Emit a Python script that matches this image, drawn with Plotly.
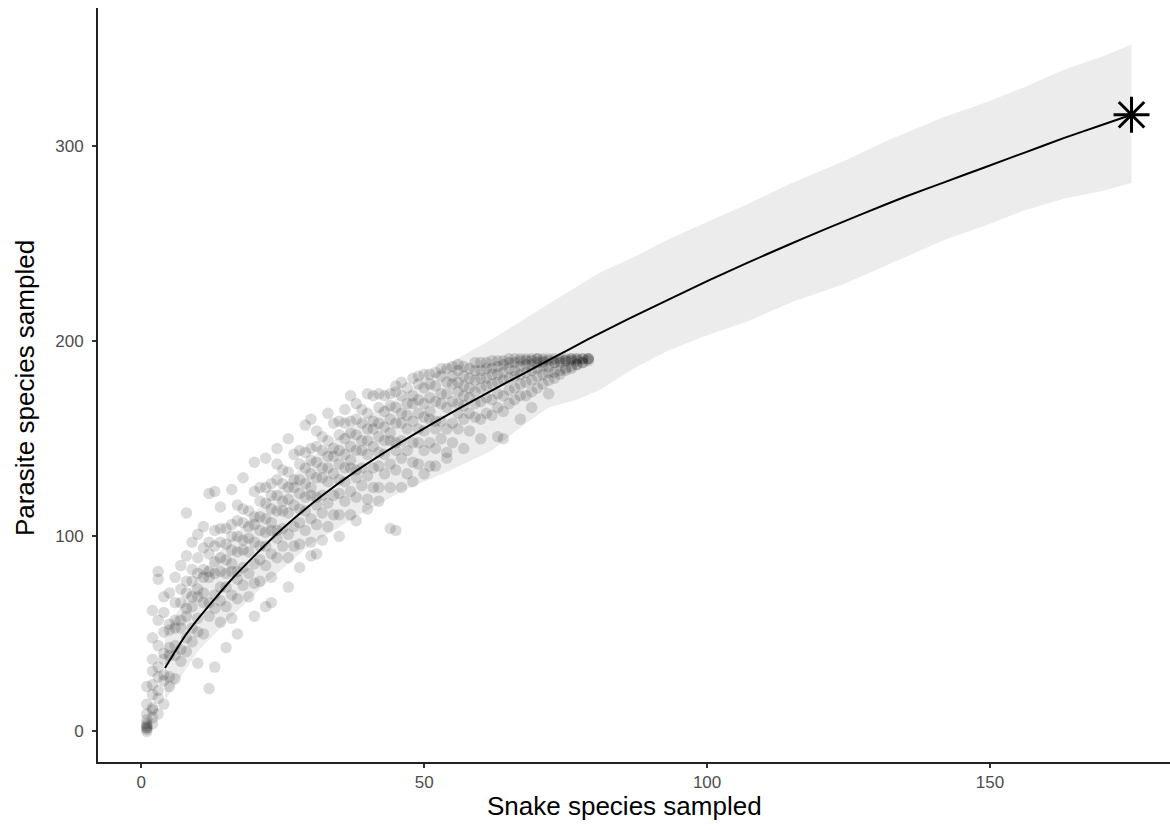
import plotly.graph_objects as go

# Subsampled accumulation: snake species drawn (x) vs parasite species found (y)
cloud = [
    (1, [0, 1, 2, 2, 3, 4, 6, 9, 14, 23]),
    (2, [4, 7, 11, 12, 19, 24, 31, 37, 48, 62]),
    (3, [9, 17, 21, 28, 33, 44, 57, 78, 82]),
    (4, [14, 26, 29, 37, 40, 51, 61, 69]),
    (5, [23, 28, 39, 43, 52, 55, 71]),
    (6, [27, 39, 44, 53, 57, 66, 79]),
    (7, [36, 42, 53, 57, 66, 73, 85]),
    (8, [41, 48, 59, 63, 71, 77, 90, 112]),
    (9, [46, 53, 64, 69, 77, 83, 97]),
    (10, [35, 51, 58, 69, 73, 81, 89, 101]),
    (11, [50, 66, 71, 79, 83, 94, 105]),
    (12, [22, 59, 66, 79, 82, 91, 97, 122]),
    (13, [33, 63, 70, 81, 87, 95, 103, 123]),
    (14, [56, 67, 74, 82, 89, 97, 104, 115]),
    (15, [43, 64, 74, 81, 88, 96, 104]),
    (16, [58, 70, 82, 86, 93, 100, 106, 124]),
    (17, [50, 68, 78, 82, 92, 100, 108, 116]),
    (18, [75, 84, 93, 98, 107, 114, 130]),
    (19, [69, 81, 92, 99, 105, 113]),
    (20, [59, 76, 86, 97, 106, 110, 123, 138]),
    (21, [77, 88, 95, 103, 110, 118, 125]),
    (22, [64, 85, 95, 102, 109, 117, 125, 140]),
    (23, [66, 79, 91, 103, 107, 114, 121, 127]),
    (24, [89, 99, 103, 113, 121, 129, 137, 145]),
    (25, [95, 104, 113, 118, 127, 134]),
    (26, [74, 89, 101, 112, 119, 125, 133, 150]),
    (27, [95, 105, 116, 125, 129, 142]),
    (28, [84, 96, 107, 114, 122, 129, 137, 144]),
    (29, [103, 113, 120, 127, 135, 143, 157]),
    (30, [90, 97, 109, 121, 125, 132, 139, 145, 160]),
    (31, [91, 106, 116, 120, 130, 138, 146, 154]),
    (32, [98, 112, 121, 130, 135, 144, 151]),
    (33, [105, 117, 128, 135, 141, 149, 163]),
    (34, [111, 121, 132, 141, 145, 158]),
    (35, [100, 111, 122, 129, 137, 144, 152, 159]),
    (36, [118, 128, 135, 142, 150, 158, 165]),
    (37, [111, 123, 135, 139, 146, 153, 159, 172]),
    (38, [108, 120, 130, 134, 144, 152, 160, 168]),
    (39, [126, 135, 144, 149, 158, 165]),
    (40, [114, 119, 131, 142, 149, 155, 163, 173]),
    (41, [125, 135, 146, 155, 159, 172]),
    (42, [118, 125, 136, 143, 151, 158, 166, 173]),
    (43, [132, 142, 149, 156, 164, 172]),
    (44, [104, 125, 137, 149, 153, 160, 167, 173]),
    (45, [103, 134, 144, 148, 158, 166, 174, 177]),
    (46, [125, 140, 149, 158, 163, 172, 179]),
    (47, [132, 144, 155, 162, 168, 176]),
    (48, [128, 138, 148, 159, 168, 172, 181]),
    (49, [137, 148, 155, 163, 170, 178, 182]),
    (50, [132, 144, 154, 161, 168, 176, 183]),
    (51, [136, 148, 160, 164, 171, 178, 183]),
    (52, [136, 145, 155, 159, 169, 177, 184]),
    (53, [150, 159, 168, 173, 182, 186]),
    (54, [140, 143, 155, 166, 173, 179, 186]),
    (55, [148, 158, 169, 178, 182, 187]),
    (56, [155, 163, 168, 174, 179, 185, 188]),
    (57, [145, 160, 167, 172, 177, 182, 187]),
    (58, [154, 163, 171, 176, 181, 186]),
    (59, [161, 168, 174, 180, 185, 189]),
    (60, [150, 160, 169, 176, 181, 185, 189]),
    (61, [163, 171, 177, 181, 186, 189]),
    (62, [162, 170, 178, 183, 186, 190]),
    (63, [151, 166, 173, 179, 183, 187, 190]),
    (64, [150, 164, 172, 180, 184, 188, 190]),
    (65, [168, 175, 181, 186, 189, 191]),
    (66, [170, 176, 182, 185, 189, 191]),
    (67, [160, 172, 178, 183, 187, 190, 191]),
    (68, [172, 179, 184, 188, 190, 191]),
    (69, [166, 174, 180, 185, 188, 190, 191]),
    (70, [176, 182, 186, 189, 191, 191]),
    (71, [178, 183, 187, 189, 190, 191]),
    (72, [173, 180, 184, 187, 190, 191]),
    (73, [181, 184, 189, 189, 191]),
    (74, [183, 185, 190, 189, 191]),
    (75, [185, 186, 190, 190, 191]),
    (76, [186, 187, 191, 190, 191]),
    (77, [188, 188, 191, 190, 191]),
    (78, [189, 189, 191, 191]),
    (79, [190, 191, 191, 191]),
]
snake_n = [n for n, ys in cloud for _ in ys]
parasite_n = [y for _, ys in cloud for y in ys]

# Rarefaction / extrapolation curve
curve_x = [4.2, 6, 8, 10.4, 13, 16, 20, 25, 31.6, 38, 45.8, 54, 63.4, 72.5, 79,
           86.2, 93, 100.2, 107, 114.1, 121, 128.1, 135, 142, 149, 156, 163, 170, 175]
curve_y = [32.5, 41, 50, 59, 68, 78, 90, 104, 120, 133.5, 148, 162, 177, 191, 201,
           211.5, 221, 231, 240, 249, 257.5, 266, 274, 281.5, 289, 296.5, 304, 311, 316]

# Confidence band around the curve
band_x = [4.2, 10, 15, 22, 30, 38, 46, 54, 62, 68, 72, 77, 81, 87, 93, 100, 107,
          115, 124, 132, 142, 149, 156, 163, 170, 175]
band_hi = [50, 80, 96, 118, 140, 158, 172, 188, 201, 212, 219, 228, 235, 243, 252,
           261, 270, 281, 292, 303, 315, 322, 330, 339, 346, 352]
band_lo = [16, 41, 56, 76, 96, 110, 123, 133, 144, 158, 166, 170, 175, 186, 195,
           203, 210, 220, 229, 239, 252, 259, 267, 273, 277, 281]

# Estimated total richness
est_x = [175]
est_y = [316]

x_ticks = [0, 50, 100, 150]
y_ticks = [0, 100, 200, 300]

fig = go.Figure()

fig.add_trace(go.Scatter(
    x=band_x + band_x[::-1], y=band_hi + band_lo[::-1],
    fill="toself", fillcolor="rgb(236,236,236)", line=dict(width=0),
    mode="lines", hoverinfo="skip", showlegend=False))

fig.add_trace(go.Scatter(
    x=snake_n, y=parasite_n, mode="markers",
    marker=dict(size=11.5, color="rgba(0,0,0,0.14)", line=dict(width=0)),
    showlegend=False))

fig.add_trace(go.Scatter(
    x=curve_x, y=curve_y, mode="lines",
    line=dict(color="black", width=2, shape="spline", smoothing=0.6),
    showlegend=False))

fig.add_trace(go.Scatter(
    x=est_x, y=est_y, mode="markers",
    marker=dict(symbol="asterisk-open", size=30, color="black",
                line=dict(color="black", width=3)),
    showlegend=False))

axis_font = dict(family="Liberation Sans, Arial, sans-serif", size=17, color="#4D4D4D")

fig.update_xaxes(
    range=[-7.63, 181.8], tickvals=x_ticks, ticktext=[str(v) for v in x_ticks],
    showgrid=False, zeroline=False, showline=True, linecolor="#222", linewidth=2,
    ticks="outside", ticklen=4, tickwidth=1.5, tickcolor="#333",
    tickfont=axis_font, ticklabelstandoff=0)
fig.update_yaxes(
    range=[-15.63, 370.7], tickvals=y_ticks, ticktext=[str(v) for v in y_ticks],
    showgrid=False, zeroline=False, showline=True, linecolor="#222", linewidth=2,
    ticks="outside", ticklen=4, tickwidth=1.5, tickcolor="#333",
    tickfont=axis_font, ticklabelstandoff=5)

title_font = dict(family="Liberation Sans, Arial, sans-serif", size=26, color="black")
fig.add_annotation(text="Snake species sampled", xref="paper", yref="paper",
                   x=0.4916, y=-0.0585, xanchor="center", yanchor="middle",
                   showarrow=False, font=title_font)
fig.add_annotation(text="Parasite species sampled", xref="paper", yref="paper",
                   x=-0.068, y=0.496, xanchor="center", yanchor="middle",
                   textangle=-90, showarrow=False, font=title_font)

fig.update_layout(
    width=1170, height=830,
    margin=dict(l=98, r=0, t=8, b=68),
    plot_bgcolor="white", paper_bgcolor="white",
)

fig.write_html("out.html")
